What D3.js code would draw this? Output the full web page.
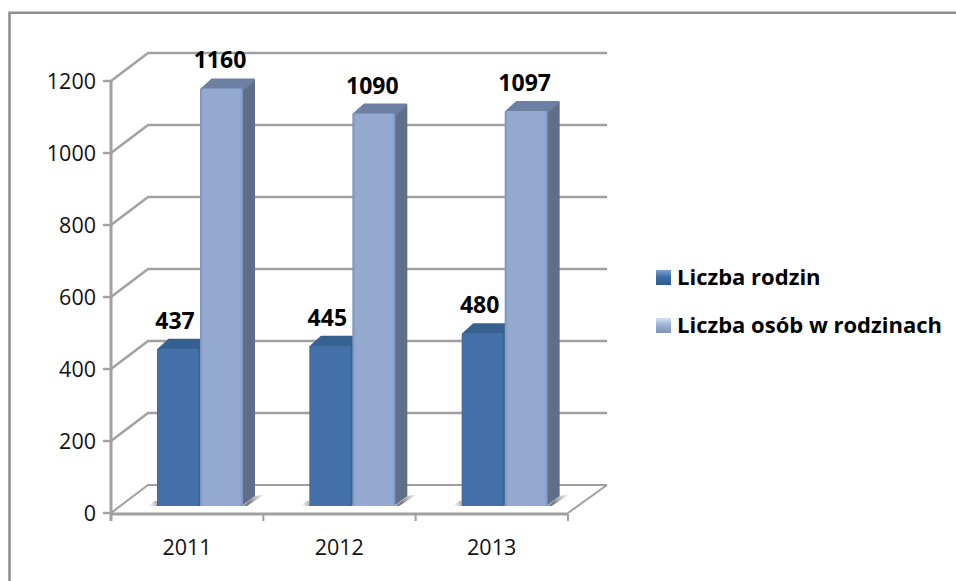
<!DOCTYPE html>
<html><head><meta charset="utf-8">
<script src="https://cdn.jsdelivr.net/npm/d3@7/dist/d3.min.js"></script>
<style>html,body{margin:0;padding:0;background:#fff}svg{display:block}text{font-family:"Open Sans",sans-serif}</style>
</head><body><svg id="c" width="956" height="581"></svg>
<script>
const categories = ["2011","2012","2013"];
const seriesNames = ["Liczba rodzin","Liczba osób w rodzinach"];
const rodziny = [437,445,480];
const osoby = [1160,1090,1097];
const yTicks = [0,200,400,600,800,1000,1200];

const svg = d3.select("#c");
const defs = svg.append("defs");
const gray = "#a0a0a0";
const dx = 37, dy = -28;
const bdx = 12, bdy = -10;
const y = d3.scaleLinear().domain([0,1200]).range([513,81]);
const x = d3.scaleBand().domain(categories).range([111,568]).paddingInner(0).paddingOuter(0);
const baseOffset = {x:46, y:-7};
const barW = 43;

function grad(id, stops, x2, y2){
  const g = defs.append("linearGradient").attr("id",id).attr("x1",0).attr("y1",0).attr("x2",x2).attr("y2",y2);
  stops.forEach(s=>g.append("stop").attr("offset",s[0]).attr("stop-color",s[1]).attr("stop-opacity",s[2]===undefined?1:s[2]));
}
grad("f0",[[0,"#3d6a9e"],[.06,"#4472a8"],[.85,"#4471a7"],[.93,"#3f72ae"],[1,"#37618f"]],1,0);
grad("f1",[[0,"#7d93b8"],[.08,"#94a9d0"],[.85,"#94a9cf"],[.93,"#8fa9d6"],[1,"#7f96bb"]],1,0);
grad("sh",[[0,"#666",.85],[1,"#bbb",0]],1,-.4);
grad("shl",[[0,"#ccc",0],[1,"#999",.8]],1,0);
grad("lg0",[[0,"#7da3d0"],[.45,"#3f6ea6"],[1,"#2f5a90"]],0,1);
grad("lg1",[[0,"#d6e0f2"],[.45,"#9fb3d6"],[1,"#8093b8"]],0,1);

svg.append("path").attr("d",line0()).attr("fill","none").attr("stroke","#8f8f8f").attr("stroke-width",2.6);
function line0(){ return "M9.5,581V12.8H956"; }

const line = d3.line();
yTicks.forEach(t=>{
  const yy = y(t);
  svg.append("path").attr("d",line([[111,yy],[111+dx,yy+dy],[607,yy+dy]]))
    .attr("fill","none").attr("stroke",gray).attr("stroke-width",t===0?2:2.4);
  svg.append("line").attr("x1",103).attr("x2",111).attr("y1",yy).attr("y2",yy).attr("stroke",gray).attr("stroke-width",2.4);
});
svg.append("path").attr("d",line([[568,y(0)],[607,y(0)+dy]])).attr("fill","none").attr("stroke",gray).attr("stroke-width",2);
svg.append("line").attr("x1",111).attr("x2",111).attr("y1",y(1200)).attr("y2",521).attr("stroke",gray).attr("stroke-width",3);
svg.append("line").attr("x1",111).attr("x2",568).attr("y1",514).attr("y2",514).attr("stroke",gray).attr("stroke-width",3);
categories.forEach((c,i)=>{
  const xx = x.range()[0]+x.step()*(i+1);
  svg.append("line").attr("x1",xx).attr("x2",xx).attr("y1",514).attr("y2",521).attr("stroke",gray).attr("stroke-width",2);
});

const yBar = v => y(v)+baseOffset.y;
function drawBar(px, v, front, side, topc){
  const t = yBar(v), b = yBar(0);
  const g = svg.append("g");
  g.append("path").attr("d",line([[px+barW-1,b],[px+barW+bdx,b+bdy],[px+barW+bdx,t+bdy+1],[px+barW-1,t]])+"Z").attr("fill",side);
  g.append("path").attr("d",line([[px+1,t+1],[px+bdx,t+bdy+1],[px+barW+bdx-1,t+bdy+1],[px+barW,t+1]])+"Z")
    .attr("fill",topc).attr("stroke",topc).attr("stroke-width",2).attr("stroke-linejoin","round");
  g.append("path").attr("d",`M${px},${b}V${t+3}Q${px},${t} ${px+3},${t}H${px+barW-3}Q${px+barW},${t} ${px+barW},${t+3}V${b}Z`).attr("fill",front);
}
categories.forEach((c,i)=>{
  const x0 = x(c)+baseOffset.x, b = yBar(0);
  svg.append("path").attr("d",line([[x0+2*barW,b],[x0+2*barW+12,b-10],[x0+2*barW+22,b-12],[x0+2*barW+4,b]])+"Z").attr("fill","url(#sh)");
  svg.append("path").attr("d",line([[x0-9,b],[x0-3,b-5],[x0,b-5],[x0,b]])+"Z").attr("fill","url(#shl)");
  drawBar(x0,rodziny[i],"url(#f0)","#2f5380","#35608f");
  drawBar(x0+barW,osoby[i],"url(#f1)","#5f6f8a","#6c80a4");
  const lab=(v,cx)=>svg.append("text").attr("x",cx).attr("y",yBar(v)-20).attr("text-anchor","middle")
    .attr("font-size",23).attr("font-weight","bold").attr("fill","#000").text(v);
  lab(rodziny[i],x0+18);
  lab(osoby[i],x0+barW+20);
  svg.append("text").attr("x",x(c)+76).attr("y",555).attr("text-anchor","middle").attr("font-size",21.5).attr("fill","#111").text(c);
});

yTicks.forEach(t=>svg.append("text").attr("x",96).attr("y",y(t)+8).attr("text-anchor","end").attr("font-size",21.5).attr("fill","#111").text(t));

seriesNames.forEach((n,i)=>{
  const ly = 277+i*48;
  svg.append("rect").attr("x",656).attr("y",ly-7).attr("width",15).attr("height",15).attr("fill",`url(#lg${i})`);
  svg.append("text").attr("x",677).attr("y",ly+8).attr("font-size",22).attr("font-weight","bold").attr("fill","#000").text(n);
});
</script></body></html>
